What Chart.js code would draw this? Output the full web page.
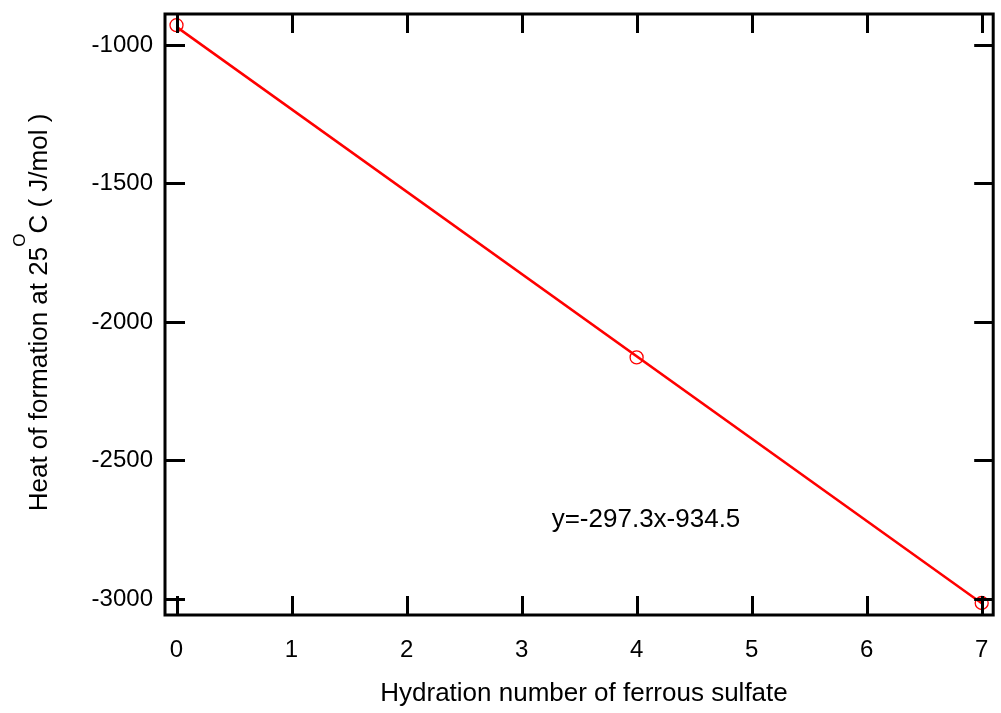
<!DOCTYPE html>
<html><head><meta charset="utf-8">
<script src="https://cdn.jsdelivr.net/npm/chart.js@4"></script>
<style>html,body{margin:0;padding:0;background:#fff}#wrap{width:1001px;height:713px}</style>
</head><body><div id="wrap"><canvas id="c" width="1001" height="713"></canvas></div>
<script>
const hydration = [0, 4, 7];
const heatOfFormation = [-928.4, -2128.0, -3014.6];
const fitX = [0, 7];
const fitY = [-934.5, -3015.6];
const xTicks = [0, 1, 2, 3, 4, 5, 6, 7];
const yTicks = [-3000, -2500, -2000, -1500, -1000];
const xTitle = 'Hydration number of ferrous sulfate';
const yTitleParts = ['Heat of formation at 25', 'O', 'C ( J/mol )'];
const equationText = 'y=-297.3x-934.5';

const FONT = '"Liberation Sans", Arial, sans-serif';

const framePlugin = {
  id: 'frame',
  afterDraw(chart) {
    const ctx = chart.ctx, a = chart.chartArea;
    const xs = chart.scales.x, ys = chart.scales.y;
    ctx.save();
    ctx.strokeStyle = '#000';
    ctx.lineWidth = 3;
    ctx.strokeRect(a.left, a.top, a.right - a.left, a.bottom - a.top);
    ctx.beginPath();
    xTicks.forEach(v => {
      const px = Math.round(xs.getPixelForValue(v)) + 0.5;
      ctx.moveTo(px, a.bottom); ctx.lineTo(px, a.bottom - 19);
      ctx.moveTo(px, a.top); ctx.lineTo(px, a.top + 19);
    });
    yTicks.forEach(v => {
      const py = Math.round(ys.getPixelForValue(v)) + 0.5;
      ctx.moveTo(a.left, py); ctx.lineTo(a.left + 20, py);
      ctx.moveTo(a.right, py); ctx.lineTo(a.right - 19, py);
    });
    ctx.stroke();

    ctx.fillStyle = '#000';
    ctx.textAlign = 'center';
    ctx.textBaseline = 'alphabetic';

    // equation
    ctx.font = '26px ' + FONT;
    ctx.fillText(equationText, 646, 527);

    // x title
    ctx.fillText(xTitle, 584, 701);

    // y title (rotated, with superscript)
    ctx.translate(0, 312.5);
    ctx.rotate(-Math.PI / 2);
    ctx.textAlign = 'left';
    const big = '26px ' + FONT, small = '17px ' + FONT;
    ctx.font = big; const w1 = ctx.measureText(yTitleParts[0]).width;
    ctx.font = small; const w2 = ctx.measureText(yTitleParts[1]).width;
    ctx.font = big; const w3 = ctx.measureText(yTitleParts[2]).width;
    let x0 = -(w1 + w2 + w3) / 2;
    const base = 47;
    ctx.font = big; ctx.fillText(yTitleParts[0], x0, base); x0 += w1;
    ctx.font = small; ctx.fillText(yTitleParts[1], x0, base - 22); x0 += w2;
    ctx.font = big; ctx.fillText(yTitleParts[2], x0, base);
    ctx.restore();
  }
};

new Chart(document.getElementById('c'), {
  type: 'scatter',
  data: {
    datasets: [
      {
        label: 'fit',
        data: fitX.map((x, i) => ({ x: x, y: fitY[i] })),
        showLine: true,
        borderColor: '#ff0000',
        borderWidth: 2.5,
        pointRadius: 0,
        fill: false,
        order: 2
      },
      {
        label: 'data',
        data: hydration.map((x, i) => ({ x: x, y: heatOfFormation[i] })),
        showLine: false,
        borderColor: '#ff0000',
        backgroundColor: 'rgba(0,0,0,0)',
        borderWidth: 1.3,
        pointRadius: 6.5,
        pointStyle: 'circle',
        order: 1
      }
    ]
  },
  options: {
    responsive: false,
    animation: false,
    events: [],
    clip: false,
    layout: { padding: { top: 14, right: 2, left: 0, bottom: 0 } },
    plugins: { legend: { display: false }, tooltip: { enabled: false } },
    scales: {
      x: {
        type: 'linear',
        min: -0.1, max: 7.1,
        afterFit(s) { s.height = 98; s.paddingLeft = 0; s.paddingRight = 0; },
        afterBuildTicks(s) { s.ticks = xTicks.map(v => ({ value: v })); },
        grid: { display: false, drawTicks: false },
        border: { display: false },
        ticks: { color: '#000', font: { size: 24, family: FONT }, padding: 21, maxRotation: 0,
                 callback: v => String(v) }
      },
      y: {
        type: 'linear',
        min: -3058, max: -888,
        afterFit(s) { s.width = 165; s.paddingTop = 0; s.paddingBottom = 0; },
        afterBuildTicks(s) { s.ticks = yTicks.map(v => ({ value: v })); },
        grid: { display: false, drawTicks: false },
        border: { display: false },
        ticks: { color: '#000', font: { size: 24, family: FONT }, padding: 12,
                 callback: v => String(v) }
      }
    }
  },
  plugins: [framePlugin]
});
</script>
</body></html>
